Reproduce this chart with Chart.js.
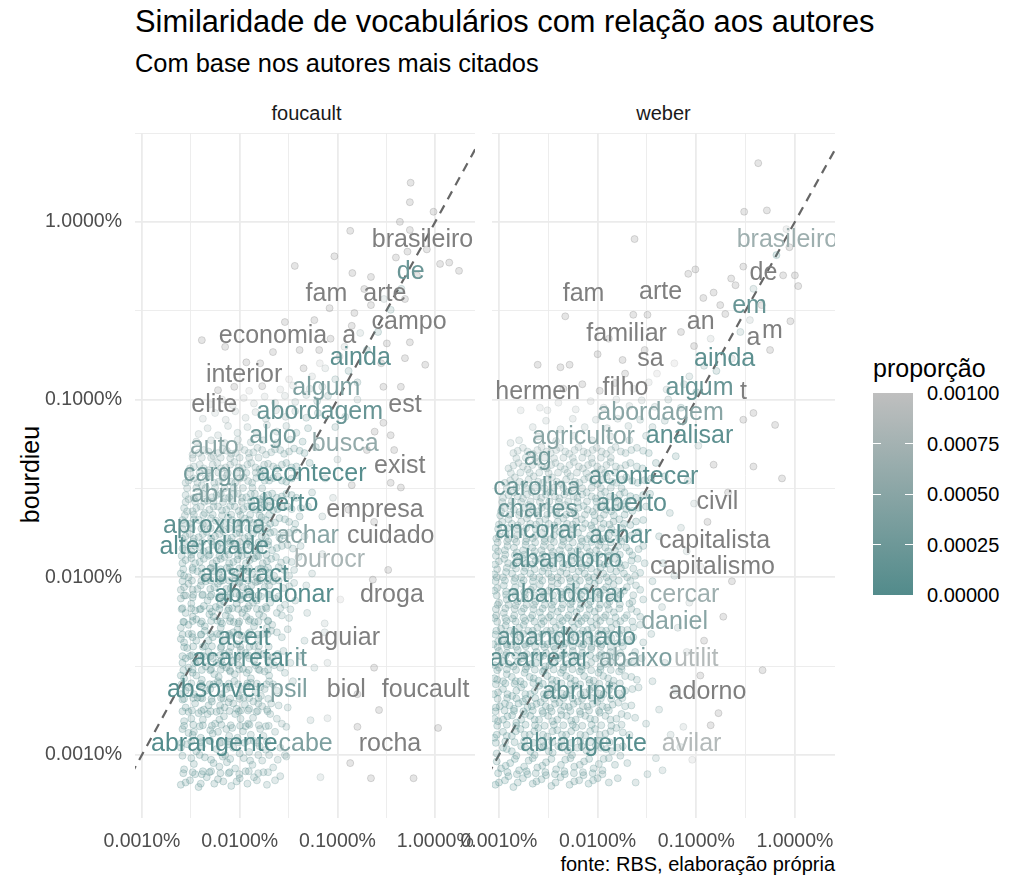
<!DOCTYPE html>
<html><head><meta charset="utf-8">
<script src="https://cdn.jsdelivr.net/npm/chart.js@4.4.1/dist/chart.umd.min.js"></script>
<style>
html,body{margin:0;padding:0;background:#fff;}
body{width:1024px;height:896px;overflow:hidden;position:relative;font-family:"Liberation Sans",Arial,sans-serif;}
.t{position:absolute;white-space:nowrap;line-height:1;}
canvas{position:absolute;}
</style></head><body>
<div class="t" style="left:135px;top:7px;font-size:30.8px;color:#000">Similaridade de vocabulários com relação aos autores</div>
<div class="t" style="left:135px;top:51px;font-size:25.4px;color:#000">Com base nos autores mais citados</div>
<div class="t" style="left:135px;width:343px;text-align:center;top:103px;font-size:20px;color:#1A1A1A">foucault</div>
<div class="t" style="left:492px;width:343px;text-align:center;top:103px;font-size:20px;color:#1A1A1A">weber</div>
<div class="t" style="left:-70px;width:200px;text-align:center;top:462px;font-size:25px;color:#000;transform:rotate(-90deg)">bourdieu</div>
<div class="t" style="right:189px;top:854px;font-size:20px;color:#000">fonte: RBS, elaboração própria</div>
<div id="legend"></div>
<canvas id="c1" width="480" height="770" style="left:0;top:100px"></canvas>
<canvas id="c2" width="400" height="770" style="left:440px;top:100px"></canvas>
<script>
// ---------- data ----------
const tickValues = [1e-5, 1e-4, 1e-3, 1e-2];
const tickLabels = ['0.0010%', '0.0100%', '0.1000%', '1.0000%'];
const minorBreaks = [3.1623e-6, 3.1623e-5, 3.1623e-4, 3.1623e-3, 3.1623e-2];
const legendBreaks = [0, 0.00025, 0.0005, 0.00075, 0.001];
const legendLabels = ['0.00000', '0.00025', '0.00050', '0.00075', '0.00100'];
const diagonal = [1e-7, 1];

// labels: [word, x proportion, y (bourdieu) proportion, colour value (null = outside limits)]
const foucaultLabels = [
 ['brasileiro',7.4e-3,7.9e-3,null],['de',5.6e-3,5.2e-3,0.00022],['fam',7.7e-4,3.9e-3,null],['arte',3.05e-3,3.9e-3,null],
 ['campo',5.4e-3,2.7e-3,null],['economia',2.19e-4,2.25e-3,null],['a',1.32e-3,2.25e-3,null],['ainda',1.71e-3,1.71e-3,0.0001],
 ['interior',1.11e-4,1.37e-3,null],['algum',7.7e-4,1.16e-3,0.0004],['elite',5.5e-5,9.3e-4,null],['abordagem',6.6e-4,8.5e-4,0.0002],
 ['est',4.9e-3,9.3e-4,null],['algo',2.19e-4,6.2e-4,0.0003],['busca',1.2e-3,5.6e-4,0.0006],['auto',5.5e-5,5.35e-4,0.0005],
 ['cargo',5.5e-5,3.77e-4,0.0003],['acontecer',5.45e-4,3.77e-4,0.00005],['exist',4.33e-3,4.18e-4,null],['abril',5.5e-5,2.9e-4,0.0004],
 ['aberto',2.77e-4,2.58e-4,0.00005],['empresa',2.42e-3,2.39e-4,null],['aproxima',5.5e-5,1.92e-4,0.0001],['achar',4.95e-4,1.69e-4,0.0005],
 ['cuidado',3.5e-3,1.69e-4,null],['alteridade',5.5e-5,1.48e-4,0.00005],['burocr',8.3e-4,1.25e-4,0.0008],['abstract',1.11e-4,1.02e-4,0.00005],
 ['abandonar',2.24e-4,7.9e-5,0.00005],['droga',3.6e-3,7.9e-5,null],['aceit',1.11e-4,4.55e-5,0.00005],['aguiar',1.2e-3,4.55e-5,null],
 ['acarretar',1.06e-4,3.43e-5,0.00003],['it',4.2e-4,3.43e-5,0.0003],['absorver',5.66e-5,2.32e-5,0.00003],['psil',3.18e-4,2.32e-5,0.0004],
 ['biol',1.23e-3,2.32e-5,null],['foucault',7.96e-3,2.32e-5,null],['abrangente',5.5e-5,1.14e-5,0.00001],['cabe',4.73e-4,1.14e-5,0.0004],
 ['rocha',3.44e-3,1.14e-5,null]
];
const weberLabels = [
 ['brasileiro',8.4e-3,7.9e-3,0.0007],['de',4.8e-3,5.15e-3,null],['fam',7.2e-5,3.9e-3,null],['arte',4.35e-4,4.0e-3,null],
 ['em',3.47e-3,3.32e-3,0.0002],['an',1.11e-3,2.7e-3,null],['familiar',1.97e-4,2.31e-3,null],['a',3.81e-3,2.22e-3,null],
 ['m',5.93e-3,2.4e-3,null],['sa',3.44e-4,1.69e-3,null],['ainda',1.94e-3,1.69e-3,0.0001],['hermen',2.47e-5,1.1e-3,null],
 ['filho',1.92e-4,1.16e-3,null],['algum',1.08e-3,1.16e-3,0.0002],['t',3.01e-3,1.09e-3,null],['abordagem',4.35e-4,8.4e-4,0.0005],
 ['agricultor',7.2e-5,6.1e-4,0.0005],['analisar',8.55e-4,6.2e-4,0.0001],['ag',2.47e-5,4.69e-4,0.0003],['acontecer',2.92e-4,3.66e-4,0.0001],
 ['carolina',2.43e-5,3.14e-4,0.0002],['aberto',2.21e-4,2.58e-4,0.0001],['civil',1.64e-3,2.62e-4,null],['charles',2.47e-5,2.39e-4,0.0002],
 ['ancorar',2.47e-5,1.8e-4,0.0001],['achar',1.71e-4,1.69e-4,0.0001],['capitalista',1.53e-3,1.58e-4,null],['abandono',4.85e-5,1.25e-4,0.0001],
 ['capitalismo',1.46e-3,1.13e-4,null],['abandonar',4.85e-5,7.85e-5,0.0001],['cercar',7.6e-4,7.85e-5,0.0007],['daniel',6.03e-4,5.6e-5,0.0005],
 ['abandonado',4.85e-5,4.55e-5,0.0001],['acarretar',2.58e-5,3.43e-5,0.0001],['abaixo',2.43e-4,3.43e-5,0.0004],['utilit',1.0e-3,3.43e-5,0.0009],
 ['abrupto',7.38e-5,2.26e-5,0.0001],['adorno',1.3e-3,2.26e-5,null],['abrangente',7.2e-5,1.14e-5,0.00005],['avilar',8.95e-4,1.14e-5,0.0009]
];

// points: [foucault (x), bourdieu (y)]
const foucaultPoints = [
[2.5e-5,6.8e-6],[3.1e-5,7.2e-6],[3.8e-5,6.6e-6],[4.6e-5,7.5e-6],[5.5e-5,6.9e-6],[6.8e-5,7.1e-6],[8.2e-5,6.7e-6],[1.0e-4,7.4e-6],[1.2e-4,6.9e-6],[1.5e-4,7.2e-6],[1.9e-4,6.8e-6],[2.6e-4,7.6e-6],[2.7e-5,8.3e-6],[3.4e-5,8.9e-6],[4.2e-5,8.1e-6],[5.1e-5,9.4e-6],[6.2e-5,8.6e-6],[7.4e-5,9.1e-6],[9.0e-5,8.4e-6],[1.1e-4,9.6e-6],[1.35e-4,8.8e-6],[1.7e-4,9.3e-6],[2.2e-4,8.5e-6],[3.0e-4,9.8e-6],[2.6e-5,9.9e-6],[3.6e-5,1.05e-5],[4.4e-5,9.7e-6],[5.8e-5,1.08e-5],[7.1e-5,1.0e-5],[8.6e-5,1.1e-5],[1.25e-4,1.04e-5],[1.6e-4,1.12e-5],[2.0e-4,1.0e-5],[2.9e-5,1.15e-5],[4.9e-5,1.2e-5],[6.5e-5,1.18e-5],[9.5e-5,1.25e-5],[1.4e-4,1.2e-5],[3.3e-5,1.3e-5],[5.3e-5,1.32e-5],
[2.2e-3,7.4e-6],[6.0e-3,7.4e-6],[1.35e-3,9e-6],[6.7e-4,7.5e-6],[2.9e-4,1e-5],
[2.6e-5,1.4e-5],[3.2e-5,1.6e-5],[3.9e-5,1.45e-5],[4.7e-5,1.7e-5],[5.6e-5,1.5e-5],[6.9e-5,1.65e-5],[8.4e-5,1.42e-5],[1.02e-4,1.6e-5],[1.22e-4,1.5e-5],[1.48e-4,1.75e-5],[1.85e-4,1.45e-5],[2.4e-4,1.6e-5],[2.8e-5,1.85e-5],[3.5e-5,1.95e-5],[4.3e-5,1.8e-5],[5.2e-5,2.0e-5],[6.3e-5,1.9e-5],[7.7e-5,1.98e-5],[9.3e-5,1.82e-5],[1.13e-4,1.92e-5],[1.38e-4,2.0e-5],[1.7e-4,1.88e-5],[2.1e-4,1.95e-5],[3.1e-4,1.85e-5],[3.0e-5,1.33e-5],[4.0e-5,1.25e-5],[6.0e-5,1.35e-5],[7.8e-5,1.28e-5],[1.08e-4,1.36e-5],[1.3e-4,1.3e-5],[1.75e-4,1.28e-5],[2.3e-4,1.35e-5],
[3.0e-4,1.44e-5],[7.9e-4,1.61e-5],[5.3e-4,1.57e-5],[1.6e-3,1.44e-5],[1.07e-2,1.42e-5],[2.66e-3,1.79e-5],
[2.5e-5,2.2e-5],[3.0e-5,2.4e-5],[3.7e-5,2.1e-5],[4.5e-5,2.3e-5],[5.4e-5,2.5e-5],[6.6e-5,2.2e-5],[8.0e-5,2.4e-5],[9.8e-5,2.15e-5],[1.18e-4,2.45e-5],[1.45e-4,2.25e-5],[1.8e-4,2.35e-5],[2.2e-4,2.5e-5],[2.7e-5,2.7e-5],[3.3e-5,2.9e-5],[4.1e-5,2.65e-5],[5.0e-5,3.0e-5],[6.1e-5,2.75e-5],[7.3e-5,3.1e-5],[8.9e-5,2.85e-5],[1.08e-4,3.05e-5],[1.3e-4,2.7e-5],[1.6e-4,3.0e-5],[2.0e-4,2.8e-5],[2.6e-4,3.1e-5],[2.6e-5,3.3e-5],[3.1e-5,3.6e-5],[3.9e-5,3.4e-5],[4.8e-5,3.8e-5],[5.8e-5,3.3e-5],[7.0e-5,3.7e-5],[8.5e-5,3.4e-5],[1.03e-4,3.9e-5],[1.25e-4,3.5e-5],[1.55e-4,3.8e-5],[1.95e-4,3.4e-5],[2.45e-4,3.7e-5],[3.3e-4,3.3e-5],[2.9e-5,4.0e-5],[4.4e-5,4.1e-5],[6.4e-5,4.0e-5],[9.3e-5,4.2e-5],[1.4e-4,4.1e-5],
[5.8e-4,3.1e-5],[7.9e-4,3.3e-5],[2.37e-3,3.1e-5],[1.6e-3,2.2e-5],[3.5e-4,2.6e-5],[4.2e-4,3.6e-5],
[2.5e-5,4.5e-5],[3.0e-5,4.8e-5],[3.6e-5,4.4e-5],[4.4e-5,5.0e-5],[5.3e-5,4.6e-5],[6.4e-5,5.2e-5],[7.8e-5,4.7e-5],[9.5e-5,5.1e-5],[1.15e-4,4.5e-5],[1.4e-4,5.3e-5],[1.72e-4,4.8e-5],[2.1e-4,5.0e-5],[2.7e-4,4.6e-5],[2.7e-5,5.6e-5],[3.3e-5,6.0e-5],[4.0e-5,5.5e-5],[4.9e-5,6.2e-5],[5.9e-5,5.7e-5],[7.2e-5,6.1e-5],[8.7e-5,5.6e-5],[1.06e-4,6.3e-5],[1.28e-4,5.8e-5],[1.58e-4,6.2e-5],[1.95e-4,5.7e-5],[2.4e-4,6.3e-5],[3.2e-4,5.9e-5],[2.6e-5,6.7e-5],[3.2e-5,7.1e-5],[3.9e-5,6.6e-5],[4.7e-5,7.4e-5],[5.7e-5,6.8e-5],[6.9e-5,7.3e-5],[8.4e-5,6.7e-5],[1.02e-4,7.5e-5],[1.24e-4,6.9e-5],[1.5e-4,7.4e-5],[1.85e-4,6.8e-5],[2.3e-4,7.6e-5],[2.9e-4,7.0e-5],[3.7e-4,7.4e-5],[2.8e-5,7.9e-5],[4.2e-5,8.0e-5],[6.2e-5,7.8e-5],[9.0e-5,8.1e-5],[1.35e-4,7.9e-5],[2.0e-4,8.0e-5],
[7.4e-4,5.5e-5],[4.9e-4,6.3e-5],[7.4e-4,4.9e-5],[1.07e-3,7.5e-5],[4.6e-4,4.4e-5],
[2.5e-5,8.5e-5],[3.0e-5,9.2e-5],[3.7e-5,8.6e-5],[4.5e-5,9.5e-5],[5.5e-5,8.8e-5],[6.7e-5,9.6e-5],[8.1e-5,8.7e-5],[9.9e-5,9.3e-5],[1.2e-4,8.6e-5],[1.46e-4,9.4e-5],[1.8e-4,8.8e-5],[2.2e-4,9.5e-5],[2.8e-4,8.7e-5],[3.6e-4,9.3e-5],[2.7e-5,1.02e-4],[3.3e-5,1.1e-4],[4.1e-5,1.04e-4],[5.0e-5,1.12e-4],[6.1e-5,1.05e-4],[7.4e-5,1.13e-4],[9.0e-5,1.03e-4],[1.1e-4,1.1e-4],[1.34e-4,1.04e-4],[1.65e-4,1.12e-4],[2.0e-4,1.06e-4],[2.5e-4,1.14e-4],[3.2e-4,1.02e-4],[2.6e-5,1.2e-4],[3.2e-5,1.28e-4],[3.9e-5,1.22e-4],[4.8e-5,1.32e-4],[5.8e-5,1.24e-4],[7.0e-5,1.3e-4],[8.6e-5,1.22e-4],[1.05e-4,1.32e-4],[1.27e-4,1.25e-4],[1.55e-4,1.31e-4],[1.9e-4,1.23e-4],[2.35e-4,1.3e-4],[3.0e-4,1.25e-4],[4.0e-4,1.3e-4],[2.8e-5,1.42e-4],[3.5e-5,1.5e-4],[4.3e-5,1.4e-4],[5.3e-5,1.52e-4],[6.5e-5,1.44e-4],[7.9e-5,1.55e-4],[9.6e-5,1.43e-4],[1.17e-4,1.53e-4],[1.43e-4,1.45e-4],[1.75e-4,1.55e-4],[2.15e-4,1.42e-4],[2.7e-4,1.5e-4],[3.5e-4,1.45e-4],
[3.3e-3,1.1e-4],[2.3e-3,9.7e-5],[2.37e-3,2.05e-4],[5.5e-4,1.05e-4],[7.0e-4,1.35e-4],[4.8e-4,9e-5],
[2.6e-5,1.65e-4],[3.1e-5,1.75e-4],[3.8e-5,1.68e-4],[4.6e-5,1.8e-4],[5.6e-5,1.7e-4],[6.8e-5,1.82e-4],[8.3e-5,1.67e-4],[1.0e-4,1.78e-4],[1.23e-4,1.7e-4],[1.5e-4,1.84e-4],[1.85e-4,1.68e-4],[2.25e-4,1.8e-4],[2.8e-4,1.72e-4],[3.6e-4,1.85e-4],[4.6e-4,1.7e-4],[2.7e-5,2.0e-4],[3.4e-5,2.12e-4],[4.2e-5,1.98e-4],[5.1e-5,2.15e-4],[6.3e-5,2.02e-4],[7.6e-5,2.18e-4],[9.3e-5,2.0e-4],[1.13e-4,2.14e-4],[1.38e-4,2.02e-4],[1.68e-4,2.18e-4],[2.05e-4,2.0e-4],[2.55e-4,2.15e-4],[3.2e-4,2.05e-4],[4.1e-4,2.2e-4],[2.9e-5,2.35e-4],[3.6e-5,2.45e-4],[4.4e-5,2.3e-4],[5.4e-5,2.5e-4],[6.6e-5,2.38e-4],[8.0e-5,2.52e-4],[9.8e-5,2.36e-4],[1.2e-4,2.5e-4],[1.46e-4,2.4e-4],[1.78e-4,2.55e-4],[2.2e-4,2.38e-4],[2.7e-4,2.5e-4],[3.4e-4,2.42e-4],[5.0e-4,2.5e-4],[3.0e-5,2.75e-4],[3.8e-5,2.85e-4],[4.7e-5,2.7e-4],[5.8e-5,2.9e-4],[7.1e-5,2.78e-4],[8.7e-5,2.95e-4],[1.06e-4,2.8e-4],[1.3e-4,2.95e-4],[1.6e-4,2.75e-4],[1.95e-4,2.9e-4],[2.4e-4,2.8e-4],[3.0e-4,2.95e-4],[3.8e-4,2.8e-4],[5.5e-4,3.0e-4],
[3.5e-3,3.4e-4],[4.45e-3,3.2e-4],[7e-4,2.2e-4],[9e-4,2.8e-4],[1.3e-3,2.4e-4],
[2.8e-5,3.4e-4],[3.4e-5,3.6e-4],[4.1e-5,3.3e-4],[5.0e-5,3.7e-4],[6.1e-5,3.45e-4],[7.4e-5,3.75e-4],[9.0e-5,3.4e-4],[1.1e-4,3.65e-4],[1.34e-4,3.4e-4],[1.63e-4,3.8e-4],[2.0e-4,3.5e-4],[2.45e-4,3.7e-4],[3.0e-4,3.45e-4],[3.9e-4,3.75e-4],[3.1e-5,4.1e-4],[3.9e-5,4.3e-4],[4.8e-5,4.0e-4],[5.9e-5,4.4e-4],[7.2e-5,4.15e-4],[8.8e-5,4.45e-4],[1.07e-4,4.1e-4],[1.31e-4,4.4e-4],[1.6e-4,4.05e-4],[1.95e-4,4.35e-4],[2.4e-4,4.1e-4],[3.0e-4,4.4e-4],[3.8e-4,4.2e-4],[5.2e-4,4.4e-4],[3.3e-5,4.9e-4],[4.3e-5,5.2e-4],[5.4e-5,4.8e-4],[6.7e-5,5.3e-4],[8.2e-5,4.95e-4],[1.0e-4,5.4e-4],[1.24e-4,5.0e-4],[1.52e-4,5.35e-4],[1.86e-4,4.9e-4],[2.3e-4,5.25e-4],[2.85e-4,4.95e-4],[3.6e-4,5.3e-4],[4.6e-4,5.0e-4],[6.0e-4,5.4e-4],[3.6e-5,5.8e-4],[5.1e-5,5.9e-4],[7.0e-5,5.7e-4],[9.6e-5,5.95e-4],[1.3e-4,5.75e-4],[1.75e-4,5.9e-4],[2.4e-4,5.7e-4],[3.3e-4,5.95e-4],[4.4e-4,5.8e-4],
[7.5e-4,3.6e-4],[1.0e-3,4.6e-4],[1.4e-3,3.3e-4],[2.0e-3,5.2e-4],[3.5e-3,6.3e-4],[3.8e-3,5.2e-4],[2.95e-3,7.4e-4],[2.4e-3,6.6e-4],
[3.8e-5,6.4e-4],[4.7e-5,6.9e-4],[6.0e-5,6.3e-4],[7.6e-5,7.1e-4],[9.5e-5,6.5e-4],[1.2e-4,7.0e-4],[1.5e-4,6.4e-4],[1.9e-4,7.2e-4],[2.4e-4,6.6e-4],[3.0e-4,7.1e-4],[3.8e-4,6.5e-4],[5.0e-4,6.9e-4],[4.2e-5,7.8e-4],[5.6e-5,8.4e-4],[7.2e-5,7.7e-4],[9.0e-5,8.6e-4],[1.15e-4,7.9e-4],[1.45e-4,8.5e-4],[1.85e-4,7.8e-4],[2.35e-4,8.7e-4],[2.95e-4,8.0e-4],[3.7e-4,8.6e-4],[4.8e-4,7.9e-4],[6.3e-4,8.4e-4],[5.0e-5,9.4e-4],[6.6e-5,1.0e-3],[8.5e-5,9.3e-4],[1.1e-4,1.02e-3],[1.4e-4,9.5e-4],[1.8e-4,1.04e-3],[2.3e-4,9.6e-4],[2.9e-4,1.05e-3],[3.7e-4,9.7e-4],[4.8e-4,1.06e-3],[6.2e-4,9.8e-4],[8.0e-4,1.05e-3],[6.0e-5,1.13e-3],[8.8e-5,1.18e-3],[1.25e-4,1.12e-3],[1.7e-4,1.19e-3],[2.6e-4,1.14e-3],[3.5e-4,1.2e-3],[5.2e-4,1.15e-3],[7.0e-4,1.18e-3],
[4.45e-3,1.18e-3],[2.95e-3,1.18e-3],[1.2e-3,8.0e-4],[1.6e-3,1.0e-3],[9.5e-4,7e-4],
[7.9e-3,1.57e-3],[2.8e-3,1.6e-3],[4.9e-3,1.71e-3],[4.1e-4,1.9e-3],[2.19e-4,1.85e-3],[1.62e-4,1.6e-3],[1.17e-4,1.62e-3],[4.1e-5,2.16e-3],[1.71e-3,2.37e-3],[7.1e-5,1.98e-3],[6.6e-4,1.6e-3],[1.18e-3,1.98e-3],[3.2e-3,2.07e-3],[5.5e-3,2.1e-3],[2.9e-4,2.73e-3],[5.8e-4,2.8e-3],[8.3e-4,3.27e-3],[1.49e-3,3.07e-3],
[5.5e-4,1.35e-3],[7.5e-4,1.5e-3],[9.5e-4,1.3e-3],[1.3e-3,1.45e-3],[1.05e-3,1.75e-3],[8.5e-4,2.2e-3],[1.6e-3,1.25e-3],[4.5e-4,1.5e-3],[3.2e-4,1.3e-3],[2.0e-3,1.9e-3],[6.5e-4,1.9e-3],[1.4e-3,2.6e-3],
[2.99e-3,3.68e-3],[4.9e-3,3.68e-3],[1.88e-3,4.19e-3],[2.2e-3,4.9e-3],[1.42e-3,5.15e-3],[3.66e-4,5.65e-3],[9.3e-4,6.4e-3],[3.96e-3,6.3e-3],[1.12e-2,5.8e-3],[1.39e-2,5.9e-3],[1.75e-2,5.3e-3],[1.35e-3,8.9e-3],[5.5e-3,9.0e-3],[4.35e-3,1e-2],[9.6e-3,1.14e-2],[5.5e-3,1.29e-2],[5.6e-3,1.66e-2],
[3.5e-3,3.2e-3],[4.5e-3,4.2e-3],[2.6e-3,2.4e-3],[6.5e-3,5.0e-3],[2.2e-3,3.4e-3],[5.2e-3,6.8e-3],[8.2e-3,7.0e-3]
];
// more points of the dense foucault region
const foucaultPointsCore = [
[2.8e-5,7.0e-6],[3.5e-5,7.8e-6],[4.0e-5,6.9e-6],[4.9e-5,8.0e-6],[6.0e-5,7.3e-6],[7.7e-5,7.9e-6],[9.3e-5,7.1e-6],[1.15e-4,8.1e-6],[1.4e-4,7.5e-6],[1.75e-4,8.0e-6],[2.3e-4,7.2e-6],[3.2e-5,9.6e-6],[3.9e-5,1.0e-5],[5.4e-5,9.0e-6],[6.7e-5,9.8e-6],[8.0e-5,9.5e-6],[1.0e-4,1.02e-5],[1.28e-4,9.3e-6],[1.55e-4,1.0e-5],[1.85e-4,1.07e-5],[2.45e-4,9.4e-6],[2.5e-5,1.1e-5],[4.1e-5,1.12e-5],[7.6e-5,1.15e-5],[1.12e-4,1.17e-5],[2.6e-4,1.1e-5],
[2.7e-5,1.55e-5],[3.4e-5,1.35e-5],[4.2e-5,1.58e-5],[5.0e-5,1.38e-5],[6.2e-5,1.58e-5],[7.3e-5,1.4e-5],[9.0e-5,1.7e-5],[1.15e-4,1.45e-5],[1.37e-4,1.62e-5],[1.62e-4,1.4e-5],[2.05e-4,1.7e-5],[2.7e-4,1.5e-5],[3.0e-5,1.75e-5],[3.8e-5,1.72e-5],[4.8e-5,1.9e-5],[5.8e-5,1.75e-5],[7.0e-5,1.85e-5],[8.6e-5,1.95e-5],[1.03e-4,1.78e-5],[1.25e-4,1.82e-5],[1.55e-4,1.95e-5],[1.9e-4,1.8e-5],[2.5e-4,1.9e-5],[2.6e-5,2.05e-5],[4.0e-5,2.1e-5],[6.8e-5,2.08e-5],[1.1e-4,2.1e-5],[1.65e-4,2.15e-5],
[2.8e-5,2.3e-5],[3.4e-5,2.2e-5],[4.1e-5,2.45e-5],[5.0e-5,2.35e-5],[6.0e-5,2.6e-5],[7.3e-5,2.35e-5],[8.8e-5,2.6e-5],[1.05e-4,2.35e-5],[1.3e-4,2.55e-5],[1.62e-4,2.4e-5],[2.0e-4,2.6e-5],[2.4e-4,2.3e-5],[2.5e-5,2.8e-5],[3.0e-5,3.1e-5],[3.6e-5,2.8e-5],[4.5e-5,3.15e-5],[5.5e-5,2.85e-5],[6.7e-5,3.2e-5],[8.0e-5,2.95e-5],[9.7e-5,3.2e-5],[1.18e-4,2.9e-5],[1.45e-4,3.2e-5],[1.8e-4,2.95e-5],[2.25e-4,3.2e-5],[2.9e-4,2.9e-5],[2.8e-5,3.5e-5],[3.5e-5,3.3e-5],[4.3e-5,3.6e-5],[5.3e-5,3.5e-5],[6.5e-5,3.4e-5],[7.8e-5,3.8e-5],[9.4e-5,3.5e-5],[1.15e-4,3.75e-5],[1.4e-4,3.4e-5],[1.75e-4,3.7e-5],[2.15e-4,3.55e-5],[2.8e-4,3.85e-5],
[2.7e-5,4.3e-5],[3.3e-5,4.6e-5],[4.0e-5,4.75e-5],[4.8e-5,4.4e-5],[5.9e-5,4.8e-5],[7.1e-5,4.4e-5],[8.6e-5,4.9e-5],[1.04e-4,4.7e-5],[1.27e-4,4.9e-5],[1.55e-4,4.5e-5],[1.9e-4,5.2e-5],[2.4e-4,4.9e-5],[3.1e-4,5.1e-5],[2.5e-5,5.2e-5],[3.0e-5,5.4e-5],[3.6e-5,5.8e-5],[4.4e-5,5.3e-5],[5.4e-5,6.0e-5],[6.6e-5,5.5e-5],[8.0e-5,5.9e-5],[9.7e-5,5.5e-5],[1.17e-4,6.0e-5],[1.42e-4,5.6e-5],[1.75e-4,6.0e-5],[2.15e-4,5.4e-5],[2.7e-4,6.1e-5],[2.8e-5,6.3e-5],[3.5e-5,6.5e-5],[4.3e-5,6.9e-5],[5.2e-5,6.4e-5],[6.3e-5,7.0e-5],[7.6e-5,6.5e-5],[9.3e-5,7.1e-5],[1.12e-4,6.6e-5],[1.37e-4,7.2e-5],[1.68e-4,6.6e-5],[2.05e-4,7.2e-5],[2.6e-4,6.7e-5],[3.3e-4,6.6e-5],[2.5e-5,7.6e-5],[3.3e-5,7.7e-5],[5.0e-5,7.8e-5],[7.5e-5,7.7e-5],[1.1e-4,7.9e-5],[1.65e-4,7.8e-5],[2.5e-4,7.8e-5],
[2.7e-5,8.8e-5],[3.3e-5,8.5e-5],[4.0e-5,9.0e-5],[5.0e-5,8.6e-5],[6.0e-5,9.2e-5],[7.3e-5,8.6e-5],[8.9e-5,9.5e-5],[1.08e-4,8.8e-5],[1.32e-4,9.0e-5],[1.62e-4,9.6e-5],[2.0e-4,9.0e-5],[2.5e-4,9.6e-5],[3.2e-4,8.9e-5],[2.5e-5,1.05e-4],[3.0e-5,1.0e-4],[3.7e-5,1.08e-4],[4.5e-5,1.0e-4],[5.5e-5,1.08e-4],[6.7e-5,1.0e-4],[8.2e-5,1.08e-4],[1.0e-4,1.0e-4],[1.22e-4,1.08e-4],[1.5e-4,1.0e-4],[1.82e-4,1.1e-4],[2.25e-4,1.02e-4],[2.85e-4,1.1e-4],[3.6e-4,1.1e-4],[2.8e-5,1.25e-4],[3.5e-5,1.2e-4],[4.3e-5,1.27e-4],[5.3e-5,1.2e-4],[6.4e-5,1.27e-4],[7.8e-5,1.2e-4],[9.5e-5,1.26e-4],[1.16e-4,1.2e-4],[1.4e-4,1.28e-4],[1.72e-4,1.2e-4],[2.1e-4,1.27e-4],[2.65e-4,1.21e-4],[3.4e-4,1.22e-4],[2.6e-5,1.45e-4],[3.2e-5,1.4e-4],[3.9e-5,1.48e-4],[4.8e-5,1.42e-4],[5.9e-5,1.5e-4],[7.2e-5,1.41e-4],[8.8e-5,1.5e-4],[1.07e-4,1.42e-4],[1.3e-4,1.5e-4],[1.6e-4,1.43e-4],[1.95e-4,1.52e-4],[2.4e-4,1.46e-4],[3.1e-4,1.52e-4],[4.2e-4,1.5e-4],
[2.8e-5,1.7e-4],[3.4e-5,1.65e-4],[4.2e-5,1.75e-4],[5.1e-5,1.66e-4],[6.2e-5,1.75e-4],[7.5e-5,1.66e-4],[9.2e-5,1.76e-4],[1.12e-4,1.66e-4],[1.37e-4,1.76e-4],[1.68e-4,1.7e-4],[2.05e-4,1.78e-4],[2.55e-4,1.67e-4],[3.2e-4,1.78e-4],[2.6e-5,2.1e-4],[3.1e-5,2.0e-4],[3.8e-5,2.1e-4],[4.6e-5,2.0e-4],[5.7e-5,2.08e-4],[6.9e-5,2.0e-4],[8.4e-5,2.1e-4],[1.03e-4,2.02e-4],[1.25e-4,2.1e-4],[1.52e-4,2.0e-4],[1.85e-4,2.1e-4],[2.3e-4,2.03e-4],[2.9e-4,2.12e-4],[3.7e-4,2.0e-4],[2.7e-5,2.45e-4],[3.3e-5,2.35e-4],[4.0e-5,2.5e-4],[4.9e-5,2.4e-4],[6.0e-5,2.5e-4],[7.3e-5,2.4e-4],[8.9e-5,2.5e-4],[1.09e-4,2.42e-4],[1.33e-4,2.52e-4],[1.62e-4,2.42e-4],[2.0e-4,2.52e-4],[2.45e-4,2.42e-4],[3.1e-4,2.5e-4],[4.2e-4,2.45e-4],[2.8e-5,2.9e-4],[3.4e-5,2.8e-4],[4.2e-5,2.95e-4],[5.2e-5,2.82e-4],[6.4e-5,2.95e-4],[7.8e-5,2.82e-4],[9.6e-5,2.95e-4],[1.17e-4,2.82e-4],[1.43e-4,2.95e-4],[1.76e-4,2.84e-4],[2.15e-4,2.96e-4],[2.7e-4,2.85e-4],[3.4e-4,2.9e-4],
[3.0e-5,3.5e-4],[3.7e-5,3.4e-4],[4.5e-5,3.6e-4],[5.5e-5,3.4e-4],[6.7e-5,3.6e-4],[8.2e-5,3.45e-4],[1.0e-4,3.6e-4],[1.22e-4,3.48e-4],[1.48e-4,3.62e-4],[1.8e-4,3.5e-4],[2.2e-4,3.62e-4],[2.7e-4,3.5e-4],[3.4e-4,3.6e-4],[3.4e-5,4.2e-4],[4.3e-5,4.1e-4],[5.3e-5,4.3e-4],[6.5e-5,4.1e-4],[8.0e-5,4.3e-4],[9.8e-5,4.15e-4],[1.2e-4,4.3e-4],[1.45e-4,4.15e-4],[1.78e-4,4.3e-4],[2.2e-4,4.2e-4],[2.7e-4,4.3e-4],[3.4e-4,4.15e-4],[3.8e-5,5.0e-4],[4.8e-5,5.1e-4],[6.0e-5,5.0e-4],[7.4e-5,5.15e-4],[9.1e-5,5.0e-4],[1.12e-4,5.2e-4],[1.38e-4,5.05e-4],[1.7e-4,5.2e-4],[2.1e-4,5.05e-4],[2.6e-4,5.2e-4],[3.2e-4,5.1e-4],[4.1e-4,5.15e-4]
];
// points between the rows of the dense foucault region
const foucaultPointsFill = [
[2.65e-5,7.9e-6],[3.3e-5,8.0e-6],[4.1e-5,7.8e-6],[5.1e-5,8.1e-6],[6.35e-5,7.9e-6],[7.9e-5,8.0e-6],[9.9e-5,7.8e-6],[1.24e-4,8.1e-6],[1.55e-4,7.9e-6],[1.95e-4,8.0e-6],
[2.55e-5,1.17e-5],[3.2e-5,1.19e-5],[4.0e-5,1.18e-5],[5.0e-5,1.2e-5],[6.25e-5,1.17e-5],[7.8e-5,1.19e-5],[9.7e-5,1.18e-5],[1.21e-4,1.2e-5],[1.52e-4,1.17e-5],[1.9e-4,1.19e-5],
[2.7e-5,1.46e-5],[3.35e-5,1.48e-5],[4.2e-5,1.47e-5],[5.2e-5,1.46e-5],[6.5e-5,1.48e-5],[8.1e-5,1.47e-5],[1.01e-4,1.46e-5],[1.26e-4,1.48e-5],[1.57e-4,1.47e-5],[1.98e-4,1.46e-5],
[2.6e-5,1.76e-5],[3.25e-5,1.78e-5],[4.05e-5,1.77e-5],[5.05e-5,1.76e-5],[6.3e-5,1.78e-5],[7.85e-5,1.77e-5],[9.8e-5,1.76e-5],[1.22e-4,1.78e-5],[1.53e-4,1.77e-5],[1.93e-4,1.76e-5],
[2.7e-5,2.07e-5],[3.35e-5,2.09e-5],[4.15e-5,2.08e-5],[5.15e-5,2.07e-5],[6.45e-5,2.09e-5],[8.0e-5,2.08e-5],[1.0e-4,2.07e-5],[1.25e-4,2.09e-5],[1.56e-4,2.08e-5],[1.96e-4,2.07e-5],
[2.55e-5,2.5e-5],[3.2e-5,2.53e-5],[4.0e-5,2.52e-5],[4.95e-5,2.5e-5],[6.2e-5,2.54e-5],[7.75e-5,2.52e-5],[9.65e-5,2.5e-5],[1.2e-4,2.53e-5],[1.5e-4,2.52e-5],[1.88e-4,2.5e-5],
[2.65e-5,3.0e-5],[3.3e-5,3.03e-5],[4.1e-5,3.01e-5],[5.1e-5,3.04e-5],[6.4e-5,3.02e-5],[7.95e-5,3.0e-5],[9.9e-5,3.03e-5],[1.24e-4,3.01e-5],[1.55e-4,3.04e-5],[1.95e-4,3.02e-5],
[2.6e-5,3.6e-5],[3.25e-5,3.64e-5],[4.05e-5,3.62e-5],[5.05e-5,3.6e-5],[6.3e-5,3.64e-5],[7.85e-5,3.62e-5],[9.8e-5,3.6e-5],[1.22e-4,3.64e-5],[1.53e-4,3.62e-5],[1.92e-4,3.6e-5],
[2.7e-5,4.05e-5],[3.35e-5,4.08e-5],[4.2e-5,4.06e-5],[5.2e-5,4.09e-5],[6.5e-5,4.07e-5],[8.1e-5,4.05e-5],[1.01e-4,4.08e-5],[1.26e-4,4.06e-5],[1.57e-4,4.09e-5],[1.98e-4,4.07e-5],
[2.6e-5,4.76e-5],[3.25e-5,4.8e-5],[4.05e-5,4.77e-5],[5.05e-5,4.8e-5],[6.3e-5,4.76e-5],[7.85e-5,4.79e-5],[9.8e-5,4.77e-5],[1.22e-4,4.8e-5],[1.53e-4,4.76e-5],[1.93e-4,4.79e-5],
[2.65e-5,5.62e-5],[3.3e-5,5.67e-5],[4.1e-5,5.64e-5],[5.1e-5,5.68e-5],[6.4e-5,5.63e-5],[7.95e-5,5.66e-5],[9.9e-5,5.64e-5],[1.24e-4,5.68e-5],[1.55e-4,5.63e-5],[1.95e-4,5.66e-5],
[2.55e-5,6.62e-5],[3.2e-5,6.68e-5],[4.0e-5,6.64e-5],[4.95e-5,6.68e-5],[6.2e-5,6.63e-5],[7.75e-5,6.67e-5],[9.65e-5,6.64e-5],[1.2e-4,6.68e-5],[1.5e-4,6.63e-5],[1.88e-4,6.67e-5],
[2.7e-5,7.9e-5],[3.35e-5,7.98e-5],[4.15e-5,7.93e-5],[5.15e-5,7.99e-5],[6.45e-5,7.92e-5],[8.0e-5,7.97e-5],[1.0e-4,7.93e-5],[1.25e-4,7.99e-5],[1.56e-4,7.92e-5],[1.96e-4,7.97e-5],
[2.6e-5,9.5e-5],[3.25e-5,9.58e-5],[4.05e-5,9.52e-5],[5.05e-5,9.6e-5],[6.3e-5,9.5e-5],[7.85e-5,9.57e-5],[9.8e-5,9.52e-5],[1.22e-4,9.6e-5],[1.53e-4,9.5e-5],[1.92e-4,9.57e-5],
[2.65e-5,1.11e-4],[3.3e-5,1.13e-4],[4.1e-5,1.12e-4],[5.1e-5,1.13e-4],[6.4e-5,1.11e-4],[7.95e-5,1.13e-4],[9.9e-5,1.12e-4],[1.24e-4,1.13e-4],[1.55e-4,1.11e-4],[1.95e-4,1.13e-4],
[2.55e-5,1.32e-4],[3.2e-5,1.34e-4],[4.0e-5,1.33e-4],[4.95e-5,1.34e-4],[6.2e-5,1.32e-4],[7.75e-5,1.34e-4],[9.65e-5,1.33e-4],[1.2e-4,1.34e-4],[1.5e-4,1.32e-4],[1.88e-4,1.34e-4],
[2.7e-5,1.57e-4],[3.35e-5,1.59e-4],[4.15e-5,1.58e-4],[5.15e-5,1.59e-4],[6.45e-5,1.57e-4],[8.0e-5,1.59e-4],[1.0e-4,1.58e-4],[1.25e-4,1.59e-4],[1.56e-4,1.57e-4],[1.96e-4,1.59e-4],
[2.6e-5,1.87e-4],[3.25e-5,1.89e-4],[4.05e-5,1.88e-4],[5.05e-5,1.89e-4],[6.3e-5,1.87e-4],[7.85e-5,1.89e-4],[9.8e-5,1.88e-4],[1.22e-4,1.89e-4],[1.53e-4,1.87e-4],[1.92e-4,1.89e-4],
[2.75e-5,2.23e-4],[3.4e-5,2.25e-4],[4.25e-5,2.24e-4],[5.3e-5,2.25e-4],[6.6e-5,2.23e-4],[8.2e-5,2.25e-4],[1.02e-4,2.24e-4],[1.28e-4,2.25e-4],[1.6e-4,2.23e-4],[2.0e-4,2.25e-4],
[2.8e-5,2.65e-4],[3.5e-5,2.67e-4],[4.35e-5,2.66e-4],[5.4e-5,2.67e-4],[6.75e-5,2.65e-4],[8.4e-5,2.67e-4],[1.05e-4,2.66e-4],[1.31e-4,2.67e-4],[1.63e-4,2.65e-4],[2.05e-4,2.67e-4],
[2.9e-5,3.17e-4],[3.6e-5,3.19e-4],[4.5e-5,3.18e-4],[5.6e-5,3.19e-4],[7.0e-5,3.17e-4],[8.7e-5,3.19e-4],[1.08e-4,3.18e-4],[1.35e-4,3.19e-4],[1.7e-4,3.17e-4],
[3.1e-5,3.86e-4],[3.9e-5,3.88e-4],[4.85e-5,3.87e-4],[6.05e-5,3.88e-4],[7.55e-5,3.86e-4],[9.4e-5,3.88e-4],[1.17e-4,3.87e-4],[1.46e-4,3.88e-4],[1.83e-4,3.86e-4],
[3.3e-5,4.68e-4],[4.1e-5,4.71e-4],[5.1e-5,4.7e-4],[6.4e-5,4.71e-4],[8.0e-5,4.68e-4],[1.0e-4,4.71e-4],[1.25e-4,4.7e-4],[1.56e-4,4.71e-4]
];

// points: [weber (x), bourdieu (y)]
const weberPoints = [
[9.2e-6,6.8e-6],[1.15e-5,7.2e-6],[1.4e-5,6.6e-6],[1.75e-5,7.4e-6],[2.2e-5,6.9e-6],[2.7e-5,7.3e-6],[3.4e-5,6.7e-6],[4.2e-5,7.5e-6],[5.2e-5,6.8e-6],[6.5e-5,7.2e-6],[8.1e-5,6.9e-6],[1.0e-4,7.4e-6],[1.3e-4,7.0e-6],[1.05e-5,8.4e-6],[1.3e-5,9.0e-6],[1.6e-5,8.2e-6],[2.0e-5,9.3e-6],[2.45e-5,8.5e-6],[3.0e-5,9.1e-6],[3.8e-5,8.3e-6],[4.7e-5,9.4e-6],[5.8e-5,8.6e-6],[7.3e-5,9.2e-6],[9.1e-5,8.4e-6],[1.15e-4,9.5e-6],[1.5e-4,8.8e-6],[2.0e-4,9.0e-6],[9.5e-6,1.02e-5],[1.2e-5,1.08e-5],[1.5e-5,9.9e-6],[1.85e-5,1.1e-5],[2.3e-5,1.0e-5],[2.85e-5,1.12e-5],[3.5e-5,1.03e-5],[4.4e-5,1.1e-5],[5.5e-5,1.0e-5],[6.9e-5,1.12e-5],[8.6e-5,1.04e-5],[1.08e-4,1.1e-5],[1.4e-4,1.05e-5],[1.8e-4,1.12e-5],
[2.43e-4,7.0e-6],[4.55e-4,8.2e-6],[9.1e-4,9.4e-6],[6.9e-4,1.11e-5],[3.2e-4,7.8e-6],[3.9e-4,9.6e-6],
[9.0e-6,1.25e-5],[1.1e-5,1.35e-5],[1.35e-5,1.28e-5],[1.65e-5,1.4e-5],[2.05e-5,1.3e-5],[2.5e-5,1.42e-5],[3.1e-5,1.27e-5],[3.9e-5,1.38e-5],[4.8e-5,1.3e-5],[6.0e-5,1.43e-5],[7.5e-5,1.29e-5],[9.4e-5,1.4e-5],[1.2e-4,1.32e-5],[1.55e-4,1.42e-5],[2.1e-4,1.3e-5],[9.8e-6,1.55e-5],[1.22e-5,1.65e-5],[1.5e-5,1.52e-5],[1.85e-5,1.7e-5],[2.3e-5,1.58e-5],[2.8e-5,1.72e-5],[3.5e-5,1.55e-5],[4.3e-5,1.68e-5],[5.4e-5,1.56e-5],[6.7e-5,1.7e-5],[8.4e-5,1.6e-5],[1.05e-4,1.73e-5],[1.35e-4,1.58e-5],[1.75e-4,1.7e-5],[2.4e-4,1.62e-5],[9.3e-6,1.85e-5],[1.15e-5,1.95e-5],[1.42e-5,1.82e-5],[1.75e-5,2.0e-5],[2.15e-5,1.88e-5],[2.65e-5,1.98e-5],[3.3e-5,1.84e-5],[4.1e-5,1.97e-5],[5.1e-5,1.86e-5],[6.3e-5,2.0e-5],[7.9e-5,1.87e-5],[9.9e-5,1.99e-5],[1.25e-4,1.85e-5],[1.62e-4,1.97e-5],[2.2e-4,1.9e-5],
[7.4e-4,1.44e-5],[1.4e-3,1.47e-5],[1.68e-3,1.72e-5],[3.1e-4,1.5e-5],[4.2e-4,1.8e-5],[5.5e-4,1.3e-5],
[8.9e-6,2.2e-5],[1.1e-5,2.35e-5],[1.36e-5,2.15e-5],[1.68e-5,2.4e-5],[2.08e-5,2.2e-5],[2.55e-5,2.45e-5],[3.15e-5,2.25e-5],[3.9e-5,2.4e-5],[4.85e-5,2.2e-5],[6.0e-5,2.45e-5],[7.4e-5,2.25e-5],[9.2e-5,2.4e-5],[1.15e-4,2.2e-5],[1.45e-4,2.45e-5],[1.9e-4,2.3e-5],[2.6e-4,2.4e-5],[9.6e-6,2.65e-5],[1.2e-5,2.85e-5],[1.48e-5,2.6e-5],[1.82e-5,2.9e-5],[2.25e-5,2.7e-5],[2.78e-5,2.95e-5],[3.45e-5,2.65e-5],[4.25e-5,2.9e-5],[5.3e-5,2.7e-5],[6.6e-5,2.95e-5],[8.2e-5,2.65e-5],[1.02e-4,2.9e-5],[1.28e-4,2.7e-5],[1.65e-4,2.95e-5],[2.2e-4,2.75e-5],[9.1e-6,3.2e-5],[1.13e-5,3.4e-5],[1.4e-5,3.15e-5],[1.72e-5,3.5e-5],[2.12e-5,3.25e-5],[2.6e-5,3.55e-5],[3.25e-5,3.2e-5],[4.0e-5,3.5e-5],[5.0e-5,3.25e-5],[6.2e-5,3.55e-5],[7.7e-5,3.2e-5],[9.6e-5,3.5e-5],[1.2e-4,3.25e-5],[1.52e-4,3.55e-5],[2.0e-4,3.3e-5],[2.8e-4,3.5e-5],[1.0e-5,3.85e-5],[1.55e-5,3.9e-5],[2.4e-5,3.8e-5],[3.7e-5,3.95e-5],[5.6e-5,3.85e-5],[8.6e-5,3.95e-5],[1.35e-4,3.8e-5],
[3.6e-4,2.6e-5],[4.8e-4,3.3e-5],[6.2e-4,2.3e-5],[8.0e-4,3.8e-5],[1.1e-3,2.8e-5],[4.7e-3,3.0e-5],
[8.8e-6,4.2e-5],[1.08e-5,4.5e-5],[1.33e-5,4.15e-5],[1.65e-5,4.6e-5],[2.02e-5,4.25e-5],[2.5e-5,4.6e-5],[3.1e-5,4.2e-5],[3.8e-5,4.55e-5],[4.7e-5,4.25e-5],[5.85e-5,4.6e-5],[7.2e-5,4.2e-5],[8.9e-5,4.5e-5],[1.1e-4,4.2e-5],[1.38e-4,4.55e-5],[1.75e-4,4.3e-5],[2.3e-4,4.6e-5],[9.4e-6,5.0e-5],[1.17e-5,5.35e-5],[1.45e-5,4.95e-5],[1.78e-5,5.4e-5],[2.2e-5,5.0e-5],[2.7e-5,5.45e-5],[3.35e-5,5.0e-5],[4.15e-5,5.4e-5],[5.15e-5,5.0e-5],[6.4e-5,5.45e-5],[7.9e-5,5.05e-5],[9.8e-5,5.4e-5],[1.22e-4,5.0e-5],[1.55e-4,5.45e-5],[2.0e-4,5.05e-5],[2.7e-4,5.4e-5],[9.0e-6,5.9e-5],[1.12e-5,6.3e-5],[1.38e-5,5.85e-5],[1.7e-5,6.4e-5],[2.1e-5,5.9e-5],[2.6e-5,6.35e-5],[3.2e-5,5.95e-5],[3.95e-5,6.4e-5],[4.9e-5,5.9e-5],[6.1e-5,6.35e-5],[7.5e-5,5.9e-5],[9.3e-5,6.4e-5],[1.16e-4,5.95e-5],[1.46e-4,6.35e-5],[1.88e-4,5.9e-5],[2.5e-4,6.4e-5],[9.7e-6,7.0e-5],[1.2e-5,7.5e-5],[1.48e-5,6.95e-5],[1.83e-5,7.6e-5],[2.26e-5,7.0e-5],[2.8e-5,7.55e-5],[3.45e-5,7.0e-5],[4.3e-5,7.6e-5],[5.3e-5,7.05e-5],[6.6e-5,7.55e-5],[8.1e-5,7.0e-5],[1.01e-4,7.6e-5],[1.26e-4,7.0e-5],[1.6e-4,7.55e-5],[2.1e-4,7.1e-5],[2.9e-4,7.5e-5],
[1.88e-3,6.0e-5],[3.5e-4,4.8e-5],[4.5e-4,6.8e-5],[6.5e-4,5.2e-5],[8.5e-4,7.2e-5],[1.2e-3,4.4e-5],
[9.0e-6,8.4e-5],[1.12e-5,9.0e-5],[1.38e-5,8.3e-5],[1.7e-5,9.2e-5],[2.1e-5,8.5e-5],[2.6e-5,9.1e-5],[3.2e-5,8.4e-5],[3.95e-5,9.2e-5],[4.9e-5,8.5e-5],[6.05e-5,9.1e-5],[7.5e-5,8.4e-5],[9.3e-5,9.2e-5],[1.15e-4,8.5e-5],[1.45e-4,9.1e-5],[1.85e-4,8.4e-5],[2.45e-4,9.0e-5],[9.5e-6,1.0e-4],[1.18e-5,1.07e-4],[1.46e-5,9.9e-5],[1.8e-5,1.08e-4],[2.22e-5,1.0e-4],[2.75e-5,1.08e-4],[3.4e-5,1.0e-4],[4.2e-5,1.07e-4],[5.2e-5,9.9e-5],[6.45e-5,1.08e-4],[8.0e-5,1.0e-4],[9.9e-5,1.07e-4],[1.23e-4,1.0e-4],[1.55e-4,1.08e-4],[2.0e-4,1.0e-4],[2.7e-4,1.06e-4],[9.1e-6,1.18e-4],[1.13e-5,1.27e-4],[1.4e-5,1.17e-4],[1.73e-5,1.28e-4],[2.14e-5,1.18e-4],[2.65e-5,1.27e-4],[3.28e-5,1.17e-4],[4.05e-5,1.28e-4],[5.0e-5,1.18e-4],[6.2e-5,1.27e-4],[7.7e-5,1.17e-4],[9.5e-5,1.28e-4],[1.18e-4,1.18e-4],[1.48e-4,1.27e-4],[1.9e-4,1.17e-4],[2.55e-4,1.27e-4],[9.8e-6,1.4e-4],[1.22e-5,1.5e-4],[1.51e-5,1.38e-4],[1.86e-5,1.52e-4],[2.3e-5,1.4e-4],[2.85e-5,1.5e-4],[3.52e-5,1.39e-4],[4.35e-5,1.51e-4],[5.4e-5,1.4e-4],[6.7e-5,1.5e-4],[8.3e-5,1.39e-4],[1.03e-4,1.51e-4],[1.28e-4,1.4e-4],[1.62e-4,1.5e-4],[2.1e-4,1.4e-4],[2.9e-4,1.5e-4],
[3.6e-4,9.5e-5],[4.6e-4,1.2e-4],[6.0e-4,1.02e-4],[8.0e-4,1.4e-4],[1.1e-3,1.15e-4],[2.3e-3,9.5e-5],
[9.4e-6,1.65e-4],[1.17e-5,1.77e-4],[1.44e-5,1.64e-4],[1.78e-5,1.8e-4],[2.2e-5,1.66e-4],[2.72e-5,1.78e-4],[3.36e-5,1.64e-4],[4.15e-5,1.8e-4],[5.15e-5,1.66e-4],[6.35e-5,1.78e-4],[7.85e-5,1.64e-4],[9.7e-5,1.8e-4],[1.2e-4,1.66e-4],[1.5e-4,1.78e-4],[1.95e-4,1.65e-4],[2.6e-4,1.8e-4],[1.0e-5,1.98e-4],[1.25e-5,2.12e-4],[1.55e-5,1.96e-4],[1.92e-5,2.14e-4],[2.38e-5,1.98e-4],[2.95e-5,2.12e-4],[3.65e-5,1.96e-4],[4.5e-5,2.14e-4],[5.6e-5,1.98e-4],[6.9e-5,2.12e-4],[8.6e-5,1.96e-4],[1.06e-4,2.14e-4],[1.32e-4,1.98e-4],[1.66e-4,2.12e-4],[2.15e-4,1.97e-4],[2.9e-4,2.1e-4],[1.05e-5,2.35e-4],[1.3e-5,2.52e-4],[1.62e-5,2.33e-4],[2.0e-5,2.55e-4],[2.48e-5,2.35e-4],[3.07e-5,2.52e-4],[3.8e-5,2.34e-4],[4.7e-5,2.55e-4],[5.8e-5,2.35e-4],[7.2e-5,2.52e-4],[8.9e-5,2.34e-4],[1.1e-4,2.55e-4],[1.37e-4,2.35e-4],[1.72e-4,2.52e-4],[2.25e-4,2.36e-4],[3.1e-4,2.5e-4],[1.1e-5,2.8e-4],[1.4e-5,3.0e-4],[1.75e-5,2.78e-4],[2.15e-5,3.02e-4],[2.68e-5,2.8e-4],[3.3e-5,3.0e-4],[4.1e-5,2.78e-4],[5.05e-5,3.02e-4],[6.25e-5,2.8e-4],[7.75e-5,3.0e-4],[9.6e-5,2.78e-4],[1.19e-4,3.02e-4],[1.48e-4,2.8e-4],[1.87e-4,3.0e-4],[2.45e-4,2.8e-4],[3.4e-4,2.95e-4],
[4.2e-4,1.7e-4],[5.4e-4,2.3e-4],[7.0e-4,1.9e-4],[9.5e-4,2.6e-4],[1.3e-3,2.05e-4],[2.1e-3,3.0e-4],
[1.15e-5,3.4e-4],[1.45e-5,3.65e-4],[1.8e-5,3.35e-4],[2.25e-5,3.7e-4],[2.8e-5,3.4e-4],[3.45e-5,3.65e-4],[4.3e-5,3.35e-4],[5.3e-5,3.7e-4],[6.55e-5,3.4e-4],[8.1e-5,3.65e-4],[1.0e-4,3.35e-4],[1.24e-4,3.7e-4],[1.55e-4,3.4e-4],[1.95e-4,3.65e-4],[2.55e-4,3.4e-4],[3.5e-4,3.6e-4],[1.25e-5,4.1e-4],[1.58e-5,4.4e-4],[1.95e-5,4.05e-4],[2.45e-5,4.45e-4],[3.05e-5,4.1e-4],[3.75e-5,4.4e-4],[4.65e-5,4.05e-4],[5.75e-5,4.45e-4],[7.1e-5,4.1e-4],[8.8e-5,4.4e-4],[1.09e-4,4.05e-4],[1.35e-4,4.45e-4],[1.7e-4,4.1e-4],[2.15e-4,4.4e-4],[2.85e-4,4.1e-4],[3.9e-4,4.4e-4],[1.4e-5,5.0e-4],[1.75e-5,5.35e-4],[2.2e-5,4.95e-4],[2.7e-5,5.4e-4],[3.35e-5,5.0e-4],[4.15e-5,5.35e-4],[5.15e-5,4.95e-4],[6.4e-5,5.4e-4],[7.9e-5,5.0e-4],[9.8e-5,5.35e-4],[1.22e-4,4.95e-4],[1.52e-4,5.4e-4],[1.92e-4,5.0e-4],[2.5e-4,5.35e-4],[3.3e-4,5.0e-4],[1.6e-5,5.9e-4],[2.5e-5,6.2e-4],[3.8e-5,5.85e-4],[5.8e-5,6.25e-4],[8.8e-5,5.9e-4],[1.35e-4,6.2e-4],[2.1e-4,5.9e-4],[3.1e-4,6.25e-4],
[3.8e-3,4.2e-4],[7.4e-3,3.6e-4],[4.8e-4,3.7e-4],[6.2e-4,4.8e-4],[8.2e-4,3.5e-4],[1.05e-3,5.5e-4],[1.5e-3,4.3e-4],
[6.3e-3,7.2e-4],[3.8e-3,8.4e-4],[3.0e-3,7.7e-4],[1.66e-5,8.7e-4],[1.31e-5,5.7e-4],[3.1e-5,8.7e-4],
[2.2e-5,7.0e-4],[3.0e-5,7.6e-4],[4.2e-5,6.8e-4],[5.6e-5,7.8e-4],[7.4e-5,7.0e-4],[9.6e-5,7.7e-4],[1.25e-4,6.9e-4],[1.6e-4,7.8e-4],[2.05e-4,7.1e-4],[2.7e-4,7.7e-4],[3.6e-4,7.0e-4],[4.8e-4,7.6e-4],[2.6e-5,9.0e-4],[4.0e-5,9.6e-4],[6.0e-5,8.8e-4],[8.5e-5,9.8e-4],[1.15e-4,9.0e-4],[1.55e-4,1.0e-3],[2.1e-4,9.2e-4],[2.8e-4,9.9e-4],[3.8e-4,9.1e-4],[5.2e-4,1.0e-3],[7.0e-4,9.0e-4],[4.5e-5,1.15e-3],[7.0e-5,1.22e-3],[1.05e-4,1.12e-3],[1.5e-4,1.24e-3],[2.3e-4,1.15e-3],[3.3e-4,1.25e-3],[5.0e-4,1.14e-3],[7.5e-4,1.22e-3],[1.0e-3,1.1e-3],
[1.79e-4,1.67e-3],[2.47e-5,1.57e-3],[4.2e-5,1.52e-3],[5.2e-5,1.57e-3],[1.0e-4,1.8e-3],[5.6e-3,1.9e-3],[4.7e-5,2.94e-3],[2.3e-4,3e-3],[3.2e-4,3e-3],[9.0e-3,2.76e-3],[3.5e-3,2.8e-3],[1.97e-3,3.03e-3],[1.75e-3,3.4e-3],
[4.0e-4,1.4e-3],[6.0e-4,1.6e-3],[8.5e-4,1.35e-3],[1.2e-3,1.55e-3],[1.6e-3,1.45e-3],[2.3e-3,1.7e-3],[9.5e-4,2.0e-3],[1.4e-3,2.2e-3],[2.8e-3,2.4e-3],[7.0e-4,2.4e-3],[1.9e-4,1.4e-3],[1.3e-4,2.2e-3],[3.0e-4,1.9e-3],
[1.18e-3,3.73e-3],[2.26e-3,4.8e-3],[2.5e-3,4.4e-3],[3.8e-3,4.2e-3],[7.6e-3,5.0e-3],[1.0e-2,5.0e-3],[1.08e-2,4.35e-3],[3.0e-3,5.6e-3],[9.8e-4,5.4e-3],[8.3e-4,5.1e-3],[2.37e-4,8.0e-3],[8.2e-3,9.1e-3],[3.06e-3,1.14e-2],[5.2e-3,1.16e-2],[4.25e-3,2.14e-2],
[6.5e-3,6.5e-3],[8.8e-3,7.2e-3],[4.6e-3,3.4e-3],[1.5e-3,4.0e-3]
];
// more points of the dense weber region
const weberPointsCore = [
[1.0e-5,7.0e-6],[1.25e-5,7.6e-6],[1.55e-5,7.0e-6],[1.95e-5,7.8e-6],[2.4e-5,7.1e-6],[3.0e-5,7.7e-6],[3.75e-5,7.0e-6],[4.65e-5,7.8e-6],[5.8e-5,7.1e-6],[7.2e-5,7.7e-6],[9.0e-5,7.2e-6],[1.12e-4,7.8e-6],[1.6e-4,7.4e-6],[9.5e-6,9.2e-6],[1.17e-5,8.7e-6],[1.45e-5,9.5e-6],[1.8e-5,8.6e-6],[2.2e-5,9.6e-6],[2.75e-5,8.7e-6],[3.4e-5,9.5e-6],[4.25e-5,8.8e-6],[5.3e-5,9.6e-6],[6.6e-5,8.8e-6],[8.2e-5,9.5e-6],[1.03e-4,8.9e-6],[1.3e-4,9.6e-6],[1.7e-4,9.9e-6],[1.1e-5,1.1e-5],[1.35e-5,1.05e-5],[1.68e-5,1.12e-5],[2.08e-5,1.05e-5],[2.6e-5,1.1e-5],[3.2e-5,1.05e-5],[4.0e-5,1.12e-5],[5.0e-5,1.06e-5],[6.2e-5,1.1e-5],[7.7e-5,1.06e-5],[9.6e-5,1.13e-5],[1.22e-4,1.08e-5],[1.6e-4,1.1e-5],
[9.5e-6,1.3e-5],[1.2e-5,1.28e-5],[1.48e-5,1.36e-5],[1.82e-5,1.3e-5],[2.28e-5,1.36e-5],[2.8e-5,1.3e-5],[3.5e-5,1.36e-5],[4.35e-5,1.3e-5],[5.4e-5,1.36e-5],[6.7e-5,1.3e-5],[8.4e-5,1.36e-5],[1.05e-4,1.3e-5],[1.35e-4,1.36e-5],[1.8e-4,1.34e-5],[9.0e-6,1.6e-5],[1.1e-5,1.58e-5],[1.36e-5,1.67e-5],[1.68e-5,1.58e-5],[2.08e-5,1.66e-5],[2.55e-5,1.58e-5],[3.15e-5,1.66e-5],[3.9e-5,1.58e-5],[4.85e-5,1.66e-5],[6.0e-5,1.58e-5],[7.5e-5,1.66e-5],[9.4e-5,1.58e-5],[1.2e-4,1.66e-5],[1.55e-4,1.6e-5],[2.0e-4,1.66e-5],[1.02e-5,1.88e-5],[1.28e-5,1.9e-5],[1.58e-5,1.95e-5],[1.95e-5,1.86e-5],[2.4e-5,1.94e-5],[2.98e-5,1.88e-5],[3.7e-5,1.94e-5],[4.6e-5,1.88e-5],[5.7e-5,1.94e-5],[7.1e-5,1.88e-5],[8.9e-5,1.94e-5],[1.12e-4,1.88e-5],[1.42e-4,1.92e-5],[1.9e-4,1.88e-5],
[9.8e-6,2.25e-5],[1.22e-5,2.2e-5],[1.5e-5,2.3e-5],[1.85e-5,2.2e-5],[2.3e-5,2.3e-5],[2.85e-5,2.2e-5],[3.5e-5,2.32e-5],[4.35e-5,2.22e-5],[5.4e-5,2.32e-5],[6.7e-5,2.2e-5],[8.3e-5,2.32e-5],[1.03e-4,2.22e-5],[1.3e-4,2.32e-5],[1.65e-4,2.22e-5],[2.25e-4,2.35e-5],[9.0e-6,2.7e-5],[1.1e-5,2.6e-5],[1.35e-5,2.75e-5],[1.65e-5,2.6e-5],[2.05e-5,2.75e-5],[2.52e-5,2.62e-5],[3.1e-5,2.78e-5],[3.85e-5,2.62e-5],[4.8e-5,2.78e-5],[5.9e-5,2.62e-5],[7.3e-5,2.78e-5],[9.1e-5,2.62e-5],[1.14e-4,2.78e-5],[1.45e-4,2.62e-5],[1.9e-4,2.78e-5],[2.5e-4,2.65e-5],[1.0e-5,3.1e-5],[1.25e-5,3.25e-5],[1.55e-5,3.35e-5],[1.92e-5,3.15e-5],[2.38e-5,3.3e-5],[2.95e-5,3.15e-5],[3.65e-5,3.35e-5],[4.5e-5,3.12e-5],[5.6e-5,3.35e-5],[6.9e-5,3.15e-5],[8.6e-5,3.32e-5],[1.07e-4,3.15e-5],[1.35e-4,3.35e-5],[1.75e-4,3.15e-5],[2.35e-4,3.3e-5],[1.2e-5,3.75e-5],[1.9e-5,3.7e-5],[3.0e-5,3.75e-5],[4.6e-5,3.7e-5],[7.0e-5,3.75e-5],[1.1e-4,3.7e-5],[1.7e-4,3.75e-5],[2.4e-4,3.8e-5],
[9.8e-6,4.35e-5],[1.2e-5,4.2e-5],[1.48e-5,4.4e-5],[1.82e-5,4.2e-5],[2.25e-5,4.4e-5],[2.78e-5,4.2e-5],[3.45e-5,4.4e-5],[4.25e-5,4.2e-5],[5.3e-5,4.4e-5],[6.5e-5,4.25e-5],[8.1e-5,4.4e-5],[1.0e-4,4.25e-5],[1.25e-4,4.45e-5],[1.58e-4,4.25e-5],[2.05e-4,4.45e-5],[2.9e-4,4.3e-5],[1.05e-5,5.15e-5],[1.3e-5,5.0e-5],[1.6e-5,5.2e-5],[1.98e-5,5.0e-5],[2.45e-5,5.2e-5],[3.05e-5,5.0e-5],[3.75e-5,5.2e-5],[4.65e-5,5.02e-5],[5.75e-5,5.22e-5],[7.1e-5,5.0e-5],[8.8e-5,5.2e-5],[1.1e-4,5.02e-5],[1.38e-4,5.2e-5],[1.75e-4,5.05e-5],[2.3e-4,5.22e-5],[9.4e-6,6.1e-5],[1.16e-5,5.9e-5],[1.43e-5,6.1e-5],[1.77e-5,5.92e-5],[2.18e-5,6.12e-5],[2.7e-5,5.92e-5],[3.35e-5,6.12e-5],[4.15e-5,5.92e-5],[5.1e-5,6.12e-5],[6.35e-5,5.92e-5],[7.8e-5,6.12e-5],[9.7e-5,5.92e-5],[1.21e-4,6.12e-5],[1.52e-4,5.95e-5],[1.98e-4,6.12e-5],[2.7e-4,6.0e-5],[1.0e-5,7.2e-5],[1.25e-5,7.0e-5],[1.55e-5,7.3e-5],[1.9e-5,7.0e-5],[2.35e-5,7.3e-5],[2.92e-5,7.0e-5],[3.6e-5,7.3e-5],[4.45e-5,7.02e-5],[5.5e-5,7.3e-5],[6.8e-5,7.02e-5],[8.5e-5,7.3e-5],[1.06e-4,7.02e-5],[1.32e-4,7.3e-5],[1.68e-4,7.05e-5],[2.25e-4,7.3e-5],
[9.6e-6,8.7e-5],[1.18e-5,8.3e-5],[1.46e-5,8.8e-5],[1.8e-5,8.3e-5],[2.22e-5,8.8e-5],[2.75e-5,8.3e-5],[3.4e-5,8.8e-5],[4.2e-5,8.3e-5],[5.2e-5,8.8e-5],[6.4e-5,8.35e-5],[7.9e-5,8.8e-5],[9.8e-5,8.35e-5],[1.22e-4,8.8e-5],[1.53e-4,8.35e-5],[1.98e-4,8.8e-5],[2.7e-4,8.5e-5],[9.0e-6,1.04e-4],[1.1e-5,1.0e-4],[1.36e-5,1.05e-4],[1.68e-5,1.0e-4],[2.08e-5,1.05e-4],[2.57e-5,1.0e-4],[3.18e-5,1.05e-4],[3.93e-5,1.0e-4],[4.85e-5,1.05e-4],[6.0e-5,1.0e-4],[7.4e-5,1.05e-4],[9.2e-5,1.0e-4],[1.14e-4,1.05e-4],[1.43e-4,1.0e-4],[1.85e-4,1.05e-4],[2.4e-4,1.02e-4],[1.0e-5,1.23e-4],[1.24e-5,1.2e-4],[1.53e-5,1.24e-4],[1.9e-5,1.2e-4],[2.35e-5,1.24e-4],[2.9e-5,1.2e-4],[3.6e-5,1.24e-4],[4.45e-5,1.2e-4],[5.5e-5,1.24e-4],[6.8e-5,1.2e-4],[8.4e-5,1.24e-4],[1.04e-4,1.2e-4],[1.3e-4,1.24e-4],[1.65e-4,1.2e-4],[2.2e-4,1.24e-4],[3.0e-4,1.2e-4],[9.2e-6,1.46e-4],[1.15e-5,1.42e-4],[1.42e-5,1.47e-4],[1.76e-5,1.42e-4],[2.18e-5,1.47e-4],[2.7e-5,1.42e-4],[3.35e-5,1.47e-4],[4.15e-5,1.42e-4],[5.1e-5,1.47e-4],[6.3e-5,1.42e-4],[7.8e-5,1.47e-4],[9.7e-5,1.42e-4],[1.2e-4,1.47e-4],[1.5e-4,1.42e-4],[1.95e-4,1.47e-4],[2.6e-4,1.44e-4],
[1.0e-5,1.7e-4],[1.24e-5,1.65e-4],[1.53e-5,1.72e-4],[1.9e-5,1.65e-4],[2.35e-5,1.72e-4],[2.9e-5,1.65e-4],[3.6e-5,1.72e-4],[4.45e-5,1.65e-4],[5.5e-5,1.72e-4],[6.8e-5,1.65e-4],[8.4e-5,1.72e-4],[1.04e-4,1.66e-4],[1.3e-4,1.72e-4],[1.65e-4,1.66e-4],[2.2e-4,1.72e-4],[1.08e-5,2.05e-4],[1.35e-5,2.0e-4],[1.68e-5,2.06e-4],[2.08e-5,2.0e-4],[2.58e-5,2.06e-4],[3.2e-5,2.0e-4],[3.95e-5,2.06e-4],[4.9e-5,2.0e-4],[6.05e-5,2.06e-4],[7.5e-5,2.0e-4],[9.3e-5,2.06e-4],[1.15e-4,2.0e-4],[1.45e-4,2.06e-4],[1.85e-4,2.0e-4],[2.45e-4,2.06e-4],[1.15e-5,2.45e-4],[1.42e-5,2.4e-4],[1.78e-5,2.46e-4],[2.2e-5,2.4e-4],[2.72e-5,2.46e-4],[3.38e-5,2.4e-4],[4.2e-5,2.46e-4],[5.2e-5,2.4e-4],[6.4e-5,2.46e-4],[7.9e-5,2.4e-4],[9.8e-5,2.46e-4],[1.22e-4,2.4e-4],[1.53e-4,2.46e-4],[1.95e-4,2.42e-4],[2.6e-4,2.46e-4],[1.25e-5,2.9e-4],[1.55e-5,2.85e-4],[1.92e-5,2.92e-4],[2.4e-5,2.85e-4],[2.98e-5,2.92e-4],[3.7e-5,2.85e-4],[4.6e-5,2.92e-4],[5.7e-5,2.85e-4],[7.0e-5,2.92e-4],[8.7e-5,2.85e-4],[1.08e-4,2.92e-4],[1.34e-4,2.85e-4],[1.68e-4,2.92e-4],[2.15e-4,2.86e-4],[2.9e-4,2.9e-4],
[1.3e-5,3.5e-4],[1.62e-5,3.45e-4],[2.0e-5,3.55e-4],[2.5e-5,3.45e-4],[3.1e-5,3.55e-4],[3.85e-5,3.45e-4],[4.8e-5,3.55e-4],[5.9e-5,3.45e-4],[7.3e-5,3.55e-4],[9.0e-5,3.45e-4],[1.12e-4,3.55e-4],[1.4e-4,3.45e-4],[1.75e-4,3.55e-4],[2.25e-4,3.48e-4],[3.0e-4,3.52e-4],[1.4e-5,4.25e-4],[1.75e-5,4.2e-4],[2.18e-5,4.28e-4],[2.72e-5,4.2e-4],[3.38e-5,4.28e-4],[4.2e-5,4.2e-4],[5.2e-5,4.28e-4],[6.45e-5,4.2e-4],[8.0e-5,4.28e-4],[9.9e-5,4.2e-4],[1.23e-4,4.28e-4],[1.53e-4,4.2e-4],[1.92e-4,4.28e-4],[2.5e-4,4.2e-4],[1.55e-5,5.15e-4],[1.95e-5,5.1e-4],[2.45e-5,5.2e-4],[3.05e-5,5.1e-4],[3.8e-5,5.2e-4],[4.7e-5,5.1e-4],[5.85e-5,5.2e-4],[7.2e-5,5.1e-4],[8.9e-5,5.2e-4],[1.1e-4,5.1e-4],[1.37e-4,5.2e-4],[1.72e-4,5.1e-4],[2.2e-4,5.2e-4],[2.9e-4,5.15e-4]
];
// points between the rows of the dense weber region
const weberPointsFill = [
[9.8e-6,7.9e-6],[1.22e-5,8.0e-6],[1.52e-5,7.8e-6],[1.9e-5,8.1e-6],[2.36e-5,7.9e-6],[2.95e-5,8.0e-6],[3.7e-5,7.8e-6],[4.6e-5,8.1e-6],[5.75e-5,7.9e-6],[7.1e-5,8.0e-6],[8.9e-5,7.9e-6],[1.12e-4,8.2e-6],
[9.3e-6,1.17e-5],[1.16e-5,1.19e-5],[1.44e-5,1.18e-5],[1.8e-5,1.2e-5],[2.24e-5,1.17e-5],[2.8e-5,1.19e-5],[3.48e-5,1.18e-5],[4.3e-5,1.2e-5],[5.4e-5,1.17e-5],[6.7e-5,1.19e-5],[8.4e-5,1.18e-5],[1.05e-4,1.2e-5],[1.32e-4,1.18e-5],
[9.6e-6,1.46e-5],[1.2e-5,1.48e-5],[1.49e-5,1.46e-5],[1.86e-5,1.48e-5],[2.32e-5,1.47e-5],[2.9e-5,1.46e-5],[3.6e-5,1.48e-5],[4.5e-5,1.47e-5],[5.6e-5,1.48e-5],[7.0e-5,1.46e-5],[8.7e-5,1.48e-5],[1.09e-4,1.47e-5],[1.38e-4,1.46e-5],[1.75e-4,1.48e-5],
[9.2e-6,1.76e-5],[1.14e-5,1.78e-5],[1.42e-5,1.77e-5],[1.77e-5,1.76e-5],[2.2e-5,1.78e-5],[2.75e-5,1.77e-5],[3.42e-5,1.76e-5],[4.25e-5,1.78e-5],[5.3e-5,1.77e-5],[6.6e-5,1.76e-5],[8.2e-5,1.78e-5],[1.03e-4,1.77e-5],[1.3e-4,1.78e-5],
[9.7e-6,2.07e-5],[1.21e-5,2.09e-5],[1.5e-5,2.08e-5],[1.87e-5,2.07e-5],[2.33e-5,2.09e-5],[2.9e-5,2.08e-5],[3.62e-5,2.07e-5],[4.5e-5,2.09e-5],[5.6e-5,2.08e-5],[6.95e-5,2.07e-5],[8.7e-5,2.09e-5],[1.08e-4,2.08e-5],[1.37e-4,2.07e-5],[1.78e-4,2.09e-5],
[9.3e-6,2.5e-5],[1.16e-5,2.53e-5],[1.44e-5,2.52e-5],[1.79e-5,2.5e-5],[2.23e-5,2.54e-5],[2.78e-5,2.52e-5],[3.46e-5,2.5e-5],[4.3e-5,2.53e-5],[5.35e-5,2.52e-5],[6.65e-5,2.5e-5],[8.3e-5,2.54e-5],[1.04e-4,2.52e-5],[1.31e-4,2.5e-5],[1.68e-4,2.53e-5],
[9.6e-6,3.0e-5],[1.2e-5,3.03e-5],[1.49e-5,3.01e-5],[1.86e-5,3.04e-5],[2.31e-5,3.02e-5],[2.88e-5,3.0e-5],[3.58e-5,3.03e-5],[4.45e-5,3.01e-5],[5.55e-5,3.04e-5],[6.9e-5,3.02e-5],[8.6e-5,3.0e-5],[1.07e-4,3.03e-5],[1.36e-4,3.01e-5],[1.75e-4,3.04e-5],
[9.4e-6,3.6e-5],[1.17e-5,3.64e-5],[1.46e-5,3.62e-5],[1.82e-5,3.6e-5],[2.26e-5,3.64e-5],[2.82e-5,3.62e-5],[3.5e-5,3.6e-5],[4.36e-5,3.64e-5],[5.42e-5,3.62e-5],[6.75e-5,3.6e-5],[8.4e-5,3.64e-5],[1.05e-4,3.62e-5],[1.32e-4,3.6e-5],
[9.7e-6,4.05e-5],[1.21e-5,4.08e-5],[1.5e-5,4.06e-5],[1.87e-5,4.09e-5],[2.33e-5,4.07e-5],[2.9e-5,4.05e-5],[3.6e-5,4.08e-5],[4.48e-5,4.06e-5],[5.58e-5,4.09e-5],[6.95e-5,4.07e-5],[8.65e-5,4.05e-5],[1.08e-4,4.08e-5],[1.36e-4,4.06e-5],[1.8e-4,4.09e-5],
[9.2e-6,4.76e-5],[1.14e-5,4.8e-5],[1.42e-5,4.77e-5],[1.77e-5,4.8e-5],[2.2e-5,4.76e-5],[2.74e-5,4.79e-5],[3.41e-5,4.77e-5],[4.24e-5,4.8e-5],[5.28e-5,4.76e-5],[6.57e-5,4.79e-5],[8.2e-5,4.77e-5],[1.02e-4,4.8e-5],[1.28e-4,4.76e-5],[1.65e-4,4.79e-5],
[9.6e-6,5.62e-5],[1.19e-5,5.67e-5],[1.48e-5,5.64e-5],[1.84e-5,5.68e-5],[2.29e-5,5.63e-5],[2.85e-5,5.66e-5],[3.55e-5,5.64e-5],[4.42e-5,5.68e-5],[5.5e-5,5.63e-5],[6.85e-5,5.66e-5],[8.5e-5,5.64e-5],[1.06e-4,5.68e-5],[1.33e-4,5.63e-5],[1.7e-4,5.66e-5],[2.25e-4,5.64e-5],
[9.3e-6,6.62e-5],[1.16e-5,6.68e-5],[1.44e-5,6.64e-5],[1.79e-5,6.68e-5],[2.23e-5,6.63e-5],[2.77e-5,6.67e-5],[3.45e-5,6.64e-5],[4.3e-5,6.68e-5],[5.35e-5,6.63e-5],[6.65e-5,6.67e-5],[8.3e-5,6.64e-5],[1.03e-4,6.68e-5],[1.3e-4,6.63e-5],[1.66e-4,6.67e-5],[2.2e-4,6.64e-5],
[9.5e-6,7.9e-5],[1.18e-5,7.98e-5],[1.47e-5,7.93e-5],[1.83e-5,7.99e-5],[2.28e-5,7.92e-5],[2.84e-5,7.97e-5],[3.53e-5,7.93e-5],[4.4e-5,7.99e-5],[5.48e-5,7.92e-5],[6.82e-5,7.97e-5],[8.5e-5,7.93e-5],[1.06e-4,7.99e-5],[1.33e-4,7.92e-5],[1.7e-4,7.97e-5],[2.3e-4,7.93e-5],
[9.2e-6,9.5e-5],[1.15e-5,9.58e-5],[1.43e-5,9.52e-5],[1.78e-5,9.6e-5],[2.21e-5,9.5e-5],[2.75e-5,9.57e-5],[3.43e-5,9.52e-5],[4.27e-5,9.6e-5],[5.32e-5,9.5e-5],[6.62e-5,9.57e-5],[8.25e-5,9.52e-5],[1.03e-4,9.6e-5],[1.29e-4,9.5e-5],[1.64e-4,9.57e-5],[2.15e-4,9.52e-5],
[9.6e-6,1.11e-4],[1.2e-5,1.13e-4],[1.49e-5,1.12e-4],[1.85e-5,1.13e-4],[2.3e-5,1.11e-4],[2.87e-5,1.13e-4],[3.57e-5,1.12e-4],[4.45e-5,1.13e-4],[5.54e-5,1.11e-4],[6.9e-5,1.13e-4],[8.6e-5,1.12e-4],[1.07e-4,1.13e-4],[1.35e-4,1.11e-4],[1.72e-4,1.13e-4],[2.3e-4,1.12e-4],
[9.3e-6,1.32e-4],[1.16e-5,1.34e-4],[1.45e-5,1.33e-4],[1.8e-5,1.34e-4],[2.24e-5,1.32e-4],[2.79e-5,1.34e-4],[3.47e-5,1.33e-4],[4.32e-5,1.34e-4],[5.38e-5,1.32e-4],[6.7e-5,1.34e-4],[8.35e-5,1.33e-4],[1.04e-4,1.34e-4],[1.31e-4,1.32e-4],[1.68e-4,1.34e-4],[2.25e-4,1.33e-4],
[9.7e-6,1.57e-4],[1.21e-5,1.59e-4],[1.5e-5,1.58e-4],[1.87e-5,1.59e-4],[2.33e-5,1.57e-4],[2.9e-5,1.59e-4],[3.61e-5,1.58e-4],[4.5e-5,1.59e-4],[5.6e-5,1.57e-4],[6.97e-5,1.59e-4],[8.7e-5,1.58e-4],[1.08e-4,1.59e-4],[1.36e-4,1.57e-4],[1.75e-4,1.59e-4],
[9.8e-6,1.87e-4],[1.22e-5,1.89e-4],[1.52e-5,1.88e-4],[1.89e-5,1.89e-4],[2.35e-5,1.87e-4],[2.93e-5,1.89e-4],[3.65e-5,1.88e-4],[4.55e-5,1.89e-4],[5.66e-5,1.87e-4],[7.05e-5,1.89e-4],[8.8e-5,1.88e-4],[1.1e-4,1.89e-4],[1.38e-4,1.87e-4],[1.78e-4,1.89e-4],
[1.03e-5,2.23e-4],[1.28e-5,2.25e-4],[1.6e-5,2.24e-4],[1.99e-5,2.25e-4],[2.48e-5,2.23e-4],[3.09e-5,2.25e-4],[3.85e-5,2.24e-4],[4.8e-5,2.25e-4],[5.97e-5,2.23e-4],[7.44e-5,2.25e-4],[9.27e-5,2.24e-4],[1.16e-4,2.25e-4],[1.46e-4,2.23e-4],[1.88e-4,2.25e-4],
[1.08e-5,2.65e-4],[1.35e-5,2.67e-4],[1.68e-5,2.66e-4],[2.09e-5,2.67e-4],[2.6e-5,2.65e-4],[3.24e-5,2.67e-4],[4.04e-5,2.66e-4],[5.03e-5,2.67e-4],[6.27e-5,2.65e-4],[7.8e-5,2.67e-4],[9.73e-5,2.66e-4],[1.21e-4,2.67e-4],[1.53e-4,2.65e-4],[1.98e-4,2.67e-4],
[1.2e-5,3.17e-4],[1.5e-5,3.19e-4],[1.87e-5,3.18e-4],[2.33e-5,3.19e-4],[2.9e-5,3.17e-4],[3.61e-5,3.19e-4],[4.5e-5,3.18e-4],[5.6e-5,3.19e-4],[6.98e-5,3.17e-4],[8.7e-5,3.19e-4],[1.08e-4,3.18e-4],[1.36e-4,3.19e-4],[1.75e-4,3.17e-4],
[1.32e-5,3.86e-4],[1.65e-5,3.88e-4],[2.05e-5,3.87e-4],[2.56e-5,3.88e-4],[3.19e-5,3.86e-4],[3.97e-5,3.88e-4],[4.95e-5,3.87e-4],[6.16e-5,3.88e-4],[7.68e-5,3.86e-4],[9.57e-5,3.88e-4],[1.19e-4,3.87e-4],[1.5e-4,3.88e-4],
[1.5e-5,4.68e-4],[1.87e-5,4.71e-4],[2.33e-5,4.7e-4],[2.9e-5,4.71e-4],[3.62e-5,4.68e-4],[4.5e-5,4.71e-4],[5.6e-5,4.7e-4],[6.98e-5,4.71e-4],[8.7e-5,4.68e-4],[1.08e-4,4.71e-4],[1.36e-4,4.7e-4]
];

// ---------- helpers ----------
const LOW = [82, 139, 139], HIGH = [191, 191, 191], NA = [127, 127, 127];
const LIMIT = 0.001;
function mapColor(v, a) {
  let c;
  if (v === null || v === undefined || v > LIMIT || v < 0) c = NA;
  else { const t = v / LIMIT; c = LOW.map((l, i) => Math.round(l + (HIGH[i] - l) * t)); }
  return 'rgba(' + c[0] + ',' + c[1] + ',' + c[2] + ',' + a + ')';
}
function near(a, b) { return Math.abs(a - b) / b < 1e-3; }
function labelFor(v) { const i = tickValues.findIndex(t => near(v, t)); return i >= 0 ? tickLabels[i] : ''; }
const allBreaks = tickValues.concat(minorBreaks).sort((a, b) => a - b);
const XMIN = 8.5e-6, XMAX = 2.55e-2, YMIN = 4.42e-6, YMAX = 3.1623e-2;
const FONT = '"Liberation Sans", Arial, sans-serif';
Chart.defaults.font.family = FONT;

function labelPlugin(labels) {
  return {
    id: 'words',
    afterDatasetsDraw(chart) {
      const { ctx, chartArea: a, scales } = chart;
      ctx.save();
      ctx.beginPath(); ctx.rect(a.left, a.top, a.right - a.left, a.bottom - a.top); ctx.clip();
      ctx.font = '25px ' + FONT; ctx.textAlign = 'center'; ctx.textBaseline = 'alphabetic';
      for (const [w, vx, vy, p] of labels) {
        ctx.fillStyle = mapColor(p, 1);
        ctx.fillText(w, scales.x.getPixelForValue(vx), scales.y.getPixelForValue(vy) + 6.5);
      }
      ctx.restore();
    }
  };
}

function gridWidth(c) { return (c.tick && tickValues.some(t => near(c.tick.value, t))) ? 1.8 : 0.9; }

function makeChart(id, points, labels, showY, rightPad) {
  const pts = points.map(p => ({ x: p[0], y: p[1] }));
  const fill = c => c.raw ? mapColor(Math.abs(c.raw.y - c.raw.x), 0.2) : 'rgba(0,0,0,0)';
  const edge = c => c.raw ? mapColor(Math.abs(c.raw.y - c.raw.x), 0.27) : 'rgba(0,0,0,0)';
  return new Chart(document.getElementById(id), {
    type: 'scatter',
    data: { datasets: [
      { type: 'line', data: diagonal.map(v => ({ x: v, y: v })), borderColor: '#666666', borderWidth: 2.2,
        borderDash: [9, 7], pointRadius: 0, fill: false, order: 2 },
      { data: pts, pointRadius: 3.5, pointBorderWidth: 1, pointBackgroundColor: fill, pointBorderColor: edge, order: 1 }
    ] },
    options: {
      responsive: false, animation: false, events: [],
      layout: { padding: { left: 0, right: rightPad, top: 33, bottom: 0 } },
      plugins: { legend: { display: false }, tooltip: { enabled: false }, title: { display: false } },
      scales: {
        x: { type: 'logarithmic', min: XMIN, max: XMAX,
          afterBuildTicks: s => { s.ticks = allBreaks.filter(v => v >= XMIN && v <= XMAX).map(v => ({ value: v })); },
          afterFit: s => { s.height = 52; s.paddingLeft = 0; s.paddingRight = 0; },
          ticks: { autoSkip: false, maxRotation: 0, minRotation: 0, padding: 12, color: '#4D4D4D',
            font: { size: 19.5 }, callback: v => labelFor(v) },
          grid: { color: '#EBEBEB', lineWidth: gridWidth, drawTicks: false },
          border: { display: false } },
        y: { type: 'logarithmic', min: YMIN, max: YMAX,
          afterBuildTicks: s => { s.ticks = allBreaks.filter(v => v >= YMIN && v <= YMAX * 1.001).map(v => ({ value: v })); },
          afterFit: s => { s.width = showY ? 135 : 52; s.paddingTop = 0; s.paddingBottom = 0; },
          ticks: { display: showY, autoSkip: false, padding: 13, color: '#4D4D4D', font: { size: 19.5 },
            callback: v => labelFor(v) },
          grid: { color: '#EBEBEB', lineWidth: gridWidth, drawTicks: false },
          border: { display: false } }
      }
    },
    plugins: [labelPlugin(labels)]
  });
}

makeChart('c1', foucaultPoints.concat(foucaultPointsCore, foucaultPointsFill), foucaultLabels, true, 2);
makeChart('c2', weberPoints.concat(weberPointsCore, weberPointsFill), weberLabels, false, 5);

// ---------- colour bar legend ----------
(function () {
  const L = document.getElementById('legend');
  const barLeft = 873, barTop = 393, barW = 40, barH = 202;
  let html = '<div class="t" style="left:873px;top:356px;font-size:25px;color:#000">proporção</div>';
  html += '<div style="position:absolute;left:' + barLeft + 'px;top:' + barTop + 'px;width:' + barW + 'px;height:' + barH +
    'px;background:linear-gradient(to top,' + mapColor(0, 1) + ',' + mapColor(LIMIT / 2, 1) + ',' + mapColor(LIMIT, 1) + ')"></div>';
  legendBreaks.forEach((b, i) => {
    const y = barTop + barH - (b / LIMIT) * barH;
    if (b > 0 && b < LIMIT) {
      html += '<div style="position:absolute;left:' + barLeft + 'px;top:' + (y - 0.5) + 'px;width:8px;height:1px;background:#fff"></div>';
      html += '<div style="position:absolute;left:' + (barLeft + barW - 8) + 'px;top:' + (y - 0.5) + 'px;width:8px;height:1px;background:#fff"></div>';
    }
    html += '<div class="t" style="left:927px;top:' + (y - 9.7) + 'px;font-size:20px;color:#000">' + legendLabels[i] + '</div>';
  });
  L.innerHTML = html;
})();
</script>
</body></html>
